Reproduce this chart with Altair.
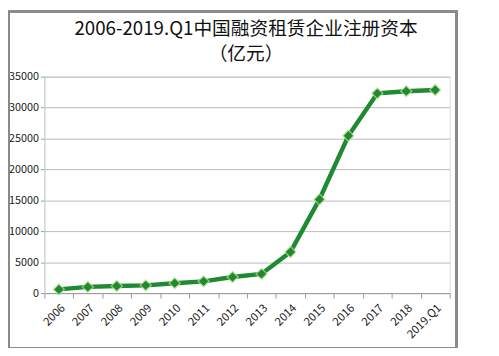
import altair as alt
import pandas as pd

years = ["2006", "2007", "2008", "2009", "2010", "2011", "2012", "2013",
         "2014", "2015", "2016", "2017", "2018", "2019.Q1"]
capital = [600, 1000, 1150, 1250, 1600, 1900, 2600, 3100,
           6650, 15150, 25450, 32300, 32650, 32850]
y_ticks = [0, 5000, 10000, 15000, 20000, 25000, 30000, 35000]
title_line1 = ["2006-2019.Q1中国融资租赁企业注册资本"]
title_line2 = ["（亿元）"]

df = pd.DataFrame({"year": years, "capital": capital})

FONT = "Noto Sans CJK SC"
GREEN = "#1e8a32"

x = alt.X("year:N", sort=years, title=None,
          scale=alt.Scale(paddingInner=0, paddingOuter=0),
          axis=alt.Axis(labelAngle=-45, labelAlign="right", labelBaseline="top",
                        labelFontSize=11.5, labelColor="#222", labelFont=FONT,
                        tickBand="extent", tickColor="#999", tickSize=5,
                        domainColor="#999", labelPadding=4))
y = alt.Y("capital:Q", title=None,
          scale=alt.Scale(domain=[0, 35000], nice=False),
          axis=alt.Axis(values=y_ticks, format="d", labelFontSize=11, labelColor="#222",
                        labelFont=FONT, gridColor="#bbb", tickColor="#999",
                        tickSize=4, domainColor="#ccc", labelPadding=2))

frame = alt.Chart(df).mark_rect(fill="transparent", stroke="#8a8a8a", strokeWidth=2,
                                clip=False).encode(
    x=alt.value(-36), x2=alt.value(419), y=alt.value(-66), y2=alt.value(276)
)

t1 = alt.Chart(pd.DataFrame({"t": title_line1})).mark_text(
    font=FONT, fontSize=19, color="#111", align="center", baseline="alphabetic"
).encode(text="t:N", x=alt.value(205), y=alt.value(-42))
t2 = alt.Chart(pd.DataFrame({"t": title_line2})).mark_text(
    font=FONT, fontSize=19, color="#111", align="center", baseline="alphabetic"
).encode(text="t:N", x=alt.value(205), y=alt.value(-17))

line = alt.Chart(df).mark_line(color=GREEN, strokeWidth=4.5).encode(x=x, y=y)
glow = alt.Chart(df).mark_point(shape="diamond", filled=True, color="#b8d98a",
                                size=170, opacity=0.8).encode(x=x, y=y)
pts = alt.Chart(df).mark_point(shape="diamond", filled=True, color=GREEN,
                               size=90, opacity=1).encode(x=x, y=y)

chart = alt.layer(frame, t1, t2, line, glow, pts).properties(
    width=412, height=220,
    autosize=alt.AutoSizeParams(type="none"),
    padding={"left": 37, "top": 67, "right": 42, "bottom": 53},
).configure_view(stroke=None).configure(background="white")

chart.save("out.html", embed_options={"renderer": "svg", "actions": False})
